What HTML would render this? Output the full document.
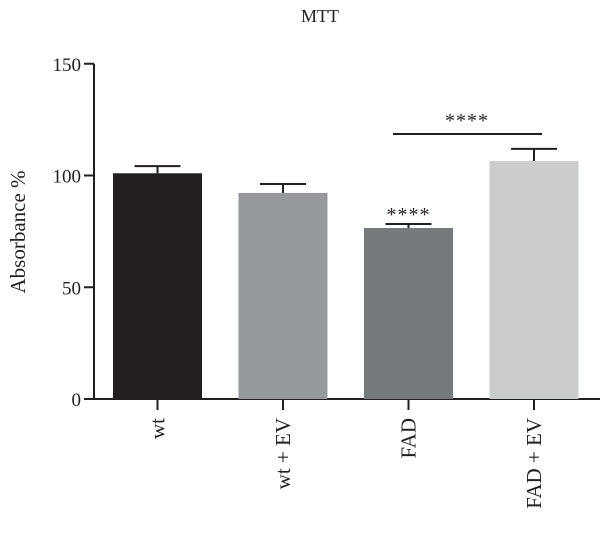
<!DOCTYPE html>
<html><head><meta charset="utf-8"><style>
body{margin:0;background:#fff}
svg text{font-family:"Liberation Serif",serif;fill:#231f20}
</style></head><body>
<svg width="600" height="539">
<text x="320" y="22" font-size="18" text-anchor="middle">MTT</text>
<text transform="translate(25,232) rotate(-90)" font-size="21" text-anchor="middle">Absorbance %</text>
<g id="plot"></g>
</svg>
<script>
const categories=["wt","wt + EV","FAD","FAD + EV"];
const values=[101,92.2,76.5,106.5];
const errors=[3.2,4,1.8,5.4];
const colors=["#231f20","#96999c","#777a7c","#cbcccc"];
const ticks=[0,50,100,150];
const ns="http://www.w3.org/2000/svg";
const g=document.getElementById("plot");
const y=v=>399-v*2.235;
const x0=113,step=125.5,bw=89;
function mk(t,a){const e=document.createElementNS(ns,t);for(const k in a)e.setAttribute(k,a[k]);g.appendChild(e);return e;}
let e=mk("line",{x1:94,y1:y(150),x2:94,y2:399,stroke:"#231f20","stroke-width":2});


e=mk("line",{x1:84,y1:399,x2:600,y2:399,stroke:"#231f20","stroke-width":2});


ticks.forEach(t=>{
 let l=mk("line",{x1:84,x2:94,y1:y(t),y2:y(t),stroke:"#231f20","stroke-width":2});
 
 
 let tx=mk("text",{x:81,y:y(t)+7,"font-size":19,"text-anchor":"end"});tx.textContent=t;
 
 
});
categories.forEach((c,i)=>{
 const bx=x0+i*step,cx=bx+bw/2;
 let r=mk("rect",{x:bx,y:y(values[i]),width:bw,height:399-y(values[i]),fill:colors[i]});
 
 
 let el=mk("line",{x1:cx,x2:cx,y1:y(values[i]),y2:y(values[i]+errors[i]),stroke:"#231f20","stroke-width":2});
 
 
 let cap=mk("line",{x1:cx-23,x2:cx+23,y1:y(values[i]+errors[i]),y2:y(values[i]+errors[i]),stroke:"#231f20","stroke-width":2});
 
 
 let tk=mk("line",{x1:cx,x2:cx,y1:399,y2:410,stroke:"#231f20","stroke-width":2});
 
 
 let lb=mk("text",{transform:`translate(${cx+7},418) rotate(-90)`,"font-size":21,"text-anchor":"end"});lb.textContent=c;
 
 
});
let s1=mk("text",{x:x0+2*step+bw/2,y:y(values[2]+errors[2])-3,"font-size":20,"text-anchor":"middle","letter-spacing":"1"});s1.textContent="****";


let br=mk("line",{x1:393,x2:542,y1:134,y2:134,stroke:"#231f20","stroke-width":2});


let s2=mk("text",{x:467,y:127,"font-size":20,"text-anchor":"middle","letter-spacing":"1"});s2.textContent="****";


</script>
</body></html>
